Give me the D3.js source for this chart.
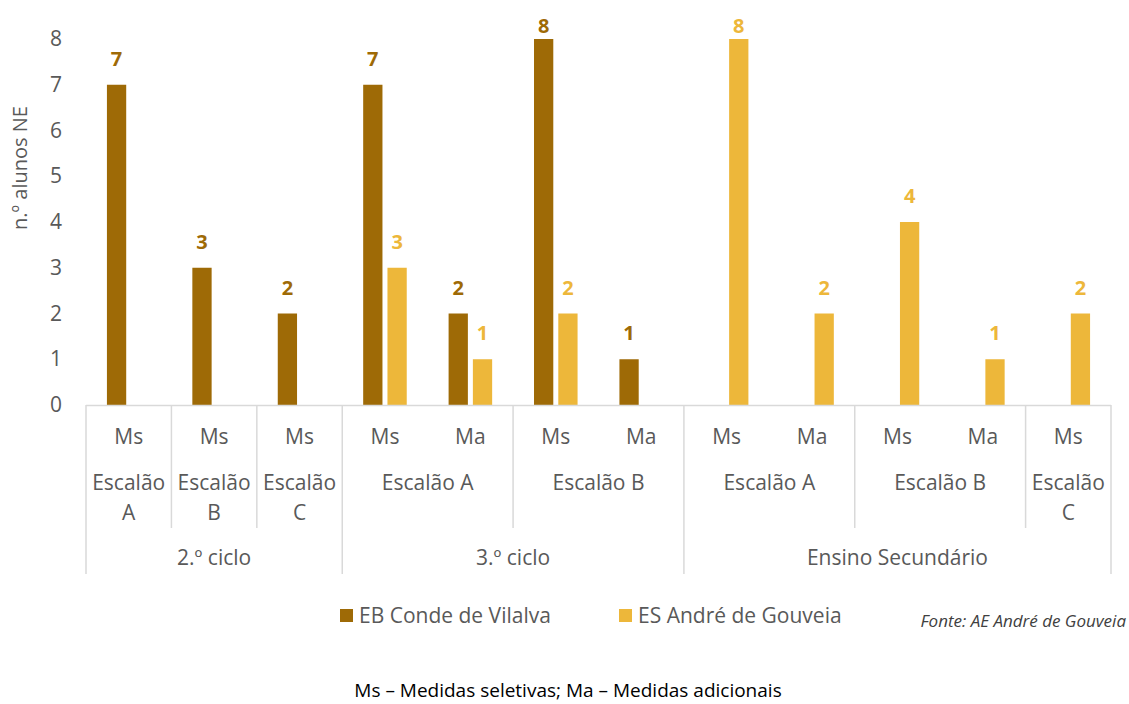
<!DOCTYPE html>
<html lang="pt">
<head>
<meta charset="utf-8">
<script src="https://cdn.jsdelivr.net/npm/d3@7"></script>
<style>
  html, body { margin: 0; padding: 0; background: #fff; }
  svg { display: block; font-family: "Open Sans", sans-serif; }
</style>
</head>
<body>
<svg id="chart" width="1129" height="704"></svg>
<script>
// Leaf categories (medida), middle level (escalão) and top level (ciclo)
const medidas  = ["Ms", "Ms", "Ms", "Ms", "Ma", "Ms", "Ma", "Ms", "Ma", "Ms", "Ma", "Ms"];
const escaloes = ["Escalão A", "Escalão B", "Escalão C",
                  "Escalão A", "Escalão A", "Escalão B", "Escalão B",
                  "Escalão A", "Escalão A", "Escalão B", "Escalão B", "Escalão C"];
const ciclos   = ["2.º ciclo", "2.º ciclo", "2.º ciclo",
                  "3.º ciclo", "3.º ciclo", "3.º ciclo", "3.º ciclo",
                  "Ensino Secundário", "Ensino Secundário", "Ensino Secundário",
                  "Ensino Secundário", "Ensino Secundário"];

// Number of students per school (null = no value)
const ebCondeVilalva   = [7, 3, 2, 7, 2, 8, 1, null, null, null, null, null];
const esAndreGouveia   = [null, null, null, 3, 1, 2, null, 8, 2, 4, 1, 2];

const seriesNames  = ["EB Conde de Vilalva", "ES André de Gouveia"];
const seriesValues = [ebCondeVilalva, esAndreGouveia];
const seriesColors = ["#9E6A06", "#EDB73A"];

const yTicks = [0, 1, 2, 3, 4, 5, 6, 7, 8];

const svg = d3.select("#chart");
const textColor = "#595959";
const lineColor = "#D9D9D9";

const x = d3.scaleBand()
  .domain(d3.range(medidas.length))
  .range([86, 1111])
  .padding(0);

const xInner = d3.scaleBand()
  .domain(d3.range(seriesNames.length))
  .range([0, x.bandwidth()])
  .paddingInner(0.206)
  .paddingOuter(0.862);

const y = d3.scaleLinear().domain([0, 8]).range([405, 39]);

// Y axis (labels only)
const yAxis = svg.append("g")
  .attr("transform", "translate(86,0)")
  .call(d3.axisLeft(y).tickValues(yTicks).tickSize(0).tickPadding(24).tickFormat(d3.format("d")));
yAxis.select(".domain").remove();
yAxis.selectAll("text")
  .attr("fill", textColor)
  .style("font-size", "21px")
  .style("font-family", "'Open Sans', sans-serif");

// Y axis title
svg.append("text")
  .attr("transform", "translate(27,168) rotate(-90)")
  .attr("text-anchor", "middle")
  .attr("fill", textColor)
  .style("font-size", "20px")
  .text("n.º alunos NE");

// Bars and value labels
const flat = [];
seriesValues.forEach((vals, s) => {
  vals.forEach((v, i) => { if (v !== null) flat.push({ s, i, v }); });
});

svg.append("g").selectAll("rect")
  .data(flat)
  .join("rect")
  .attr("x", d => x(d.i) + xInner(d.s))
  .attr("width", xInner.bandwidth())
  .attr("y", d => y(d.v))
  .attr("height", d => y(0) - y(d.v))
  .attr("fill", d => seriesColors[d.s]);

// Labels sit above each bar, kept inside the top of the drawing area
svg.append("g").selectAll("text")
  .data(flat)
  .join("text")
  .attr("x", d => x(d.i) + xInner(d.s) + xInner.bandwidth() / 2)
  .attr("y", d => Math.max(y(d.v) - 19, 33))
  .attr("text-anchor", "middle")
  .attr("fill", d => seriesColors[d.s])
  .style("font-size", "20px")
  .style("font-weight", "700")
  .text(d => d.v);

// Category axis baseline
svg.append("line")
  .attr("x1", x.range()[0]).attr("x2", x.range()[1])
  .attr("y1", y(0) + 0.5).attr("y2", y(0) + 0.5)
  .attr("stroke", lineColor).attr("stroke-width", 1.5);

// Leaf labels
const xAxis = svg.append("g")
  .attr("transform", `translate(0,${y(0)})`)
  .call(d3.axisBottom(x).tickSize(0).tickPadding(0).tickFormat(i => medidas[i]));
xAxis.select(".domain").remove();
xAxis.selectAll("text")
  .attr("y", 39)
  .attr("dy", 0)
  .attr("fill", textColor)
  .style("font-size", "21px")
  .style("font-family", "'Open Sans', sans-serif");

// Consecutive runs for the grouped levels
function runs(keys) {
  const out = [];
  keys.forEach((k, i) => {
    const last = out[out.length - 1];
    if (last && last.key === k) last.end = i;
    else out.push({ key: k, start: i, end: i });
  });
  return out;
}
const escGroups = runs(escaloes.map((e, i) => ciclos[i] + "|" + e))
  .map(g => ({ ...g, label: escaloes[g.start] }));
const cicloGroups = runs(ciclos).map(g => ({ ...g, label: g.key }));

const gx0 = g => x(g.start);
const gx1 = g => x(g.end) + x.bandwidth();

// Escalão labels (wrap to two lines when the group is a single leaf)
const escText = svg.append("g").selectAll("text")
  .data(escGroups)
  .join("text")
  .attr("x", g => (gx0(g) + gx1(g)) / 2)
  .attr("y", 490)
  .attr("text-anchor", "middle")
  .attr("fill", textColor)
  .style("font-size", "21px");
escText.each(function (g) {
  const el = d3.select(this);
  const cx = (gx0(g) + gx1(g)) / 2;
  const parts = g.end === g.start ? g.label.split(" ") : [g.label];
  parts.forEach((p, k) => {
    el.append("tspan").attr("x", cx).attr("dy", k === 0 ? 0 : 30).text(p);
  });
});

// Ciclo labels
svg.append("g").selectAll("text")
  .data(cicloGroups)
  .join("text")
  .attr("x", g => (gx0(g) + gx1(g)) / 2)
  .attr("y", 565)
  .attr("text-anchor", "middle")
  .attr("fill", textColor)
  .style("font-size", "21px")
  .text(g => g.label);

// Separators: escalão boundaries reach the second row, ciclo boundaries the third
const cicloEdges = [x(0), ...cicloGroups.map(gx1)];
const escEdges = escGroups.map(gx1).filter(e => !cicloEdges.some(c => Math.abs(c - e) < 0.5));

svg.append("g").selectAll("line")
  .data(escEdges)
  .join("line")
  .attr("x1", d => d).attr("x2", d => d)
  .attr("y1", y(0)).attr("y2", 528)
  .attr("stroke", lineColor).attr("stroke-width", 1.5);

svg.append("g").selectAll("line")
  .data(cicloEdges)
  .join("line")
  .attr("x1", d => d).attr("x2", d => d)
  .attr("y1", y(0)).attr("y2", 574)
  .attr("stroke", lineColor).attr("stroke-width", 1.5);

// Legend
const legendX = [340, 619];
const legend = svg.append("g").selectAll("g")
  .data(seriesNames)
  .join("g")
  .attr("transform", (d, i) => `translate(${legendX[i]},609)`);
legend.append("rect")
  .attr("width", 13).attr("height", 13)
  .attr("fill", (d, i) => seriesColors[i]);
legend.append("text")
  .attr("x", 19).attr("y", 14)
  .attr("fill", textColor)
  .style("font-size", "21px")
  .text(d => d);

// Source
svg.append("text")
  .attr("x", 1126).attr("y", 627)
  .attr("text-anchor", "end")
  .attr("fill", "#404040")
  .style("font-size", "17px")
  .style("font-style", "italic")
  .text("Fonte: AE André de Gouveia");

// Abbreviations note
svg.append("text")
  .attr("x", 568).attr("y", 697)
  .attr("text-anchor", "middle")
  .attr("fill", "#000")
  .style("font-size", "19px")
  .text("Ms – Medidas seletivas; Ma – Medidas adicionais");
</script>
</body>
</html>
